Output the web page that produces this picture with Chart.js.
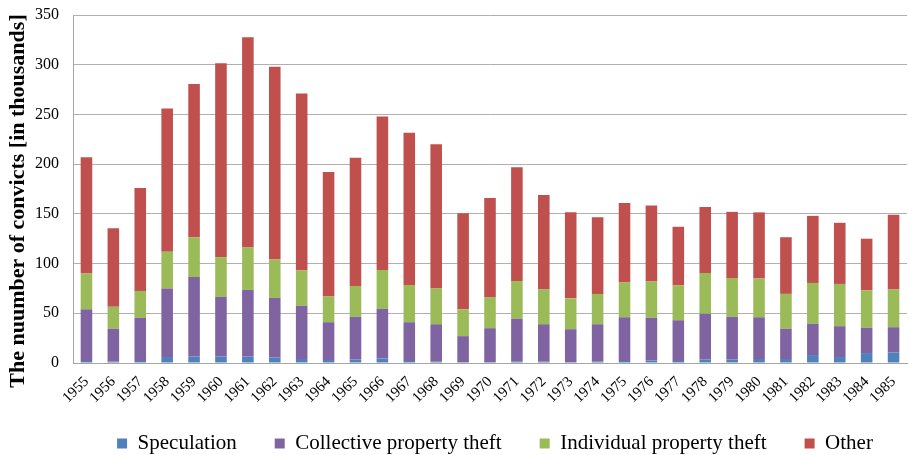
<!DOCTYPE html>
<html><head><meta charset="utf-8">
<script src="https://cdn.jsdelivr.net/npm/chart.js@4/dist/chart.umd.min.js"></script>
<style>html,body{margin:0;padding:0;background:#fff}#wrap{width:910px;height:455px}</style>
</head><body><div id="wrap"><canvas id="c"></canvas></div>
<script>
const years = ["1955","1956","1957","1958","1959","1960","1961","1962","1963","1964","1965","1966","1967","1968","1969","1970","1971","1972","1973","1974","1975","1976","1977","1978","1979","1980","1981","1982","1983","1984","1985"];
const speculation = [2,1.5,2,6,6.5,6.5,6.5,5.5,4,3,3.5,4.5,2,1.5,1,1,1.5,1.5,1,1.5,2,2.5,2,3.5,3.5,4,4,8,6,10,10.5];
const collective = [52,33,43.5,69,80,60,67,60,53.5,38,43,50,39,37.5,26,34,43,37.5,33,37.5,44,43,41,46,43,42,30.5,31.5,31,25.5,25.5];
const individual = [36,22,27,37,40,40,43,38.5,35.5,26,31,39,37.5,36,27,31,38,35,31,30.5,35,36.5,35,41,39,39,35,41,42.5,37.5,38];
const other = [117,79,103.5,144,154,195,211,194,178,125,129,154.5,153,145,96.5,100,114.5,95,86.5,77,80,76.5,59,66.5,66.5,66.5,57,67.5,61.5,52,75];
const yTicks = [0,50,100,150,200,250,300,350];

const serif = "'Liberation Serif','Times New Roman',serif";
const LEGEND_H = 60, LEGEND_DX = 39, TITLE_DY = 12;
const legendFix = {
  id: 'legendFix',
  beforeInit(chart) {
    const l = chart.legend;
    if (!l) return;
    const f = l.fit.bind(l);
    l.fit = function () { f(); this.height = LEGEND_H; };
    const d = l.draw.bind(l);
    l.draw = function () { const ctx = chart.ctx; ctx.save(); ctx.translate(LEGEND_DX, 0); d(); ctx.restore(); };
  }
};
const mk = (label, data, color) => ({label, data, backgroundColor: color, borderColor: color, borderWidth: 0, barPercentage: 0.43, categoryPercentage: 1});
new Chart(document.getElementById('c'), {
  type: 'bar',
  plugins: [legendFix],
  data: { labels: years, datasets: [
    mk('Speculation', speculation, '#4F81BD'),
    mk('Collective property theft', collective, '#8064A2'),
    mk('Individual property theft', individual, '#9BBB59'),
    mk('Other', other, '#C0504D')
  ]},
  options: {
    responsive: true, maintainAspectRatio: false, animation: false,
    layout: { padding: { top: 15, right: 3, left: 5, bottom: 0 } },
    plugins: {
      legend: { position: 'bottom', labels: { font: { family: serif, size: 21 }, color: '#000', boxWidth: 10, boxHeight: 10, padding: 38 } },
      tooltip: { enabled: false }
    },
    scales: {
      x: { stacked: true,
        grid: { display: false },
        border: { color: '#a6a6a6' },
        ticks: { color: '#000', font: { family: serif, size: 15 }, maxRotation: 45, minRotation: 45, autoSkip: false, padding: 2 },
        afterFit: a => { a.paddingLeft = 0; a.paddingRight = 0; a.height = 32; a._computeLabelArea = () => undefined; }
      },
      y: { stacked: true, min: 0, max: 350,
        afterBuildTicks: a => { a.ticks = yTicks.map(v => ({value: v})); },
        grid: { color: '#b0b0b0', drawTicks: false },
        border: { color: '#a6a6a6' },
        ticks: { color: '#000', font: { family: serif, size: 16 }, padding: 14 },
        title: { display: true, text: 'The nuumber of convicts [in thousands]', color: '#000', font: { family: serif, size: 22, weight: 'bold' }, padding: { top: 0, bottom: 4 } },
        afterFit: a => {
          a.width = 68; a.paddingTop = 0; a.paddingBottom = 0;
          if (!a._titleWrapped) {
            const dt = a.drawTitle.bind(a);
            a.drawTitle = function () { const ctx = a.ctx; ctx.save(); ctx.translate(0, TITLE_DY); dt(); ctx.restore(); };
            a._titleWrapped = true;
          }
        }
      }
    }
  }
});
</script></body></html>
